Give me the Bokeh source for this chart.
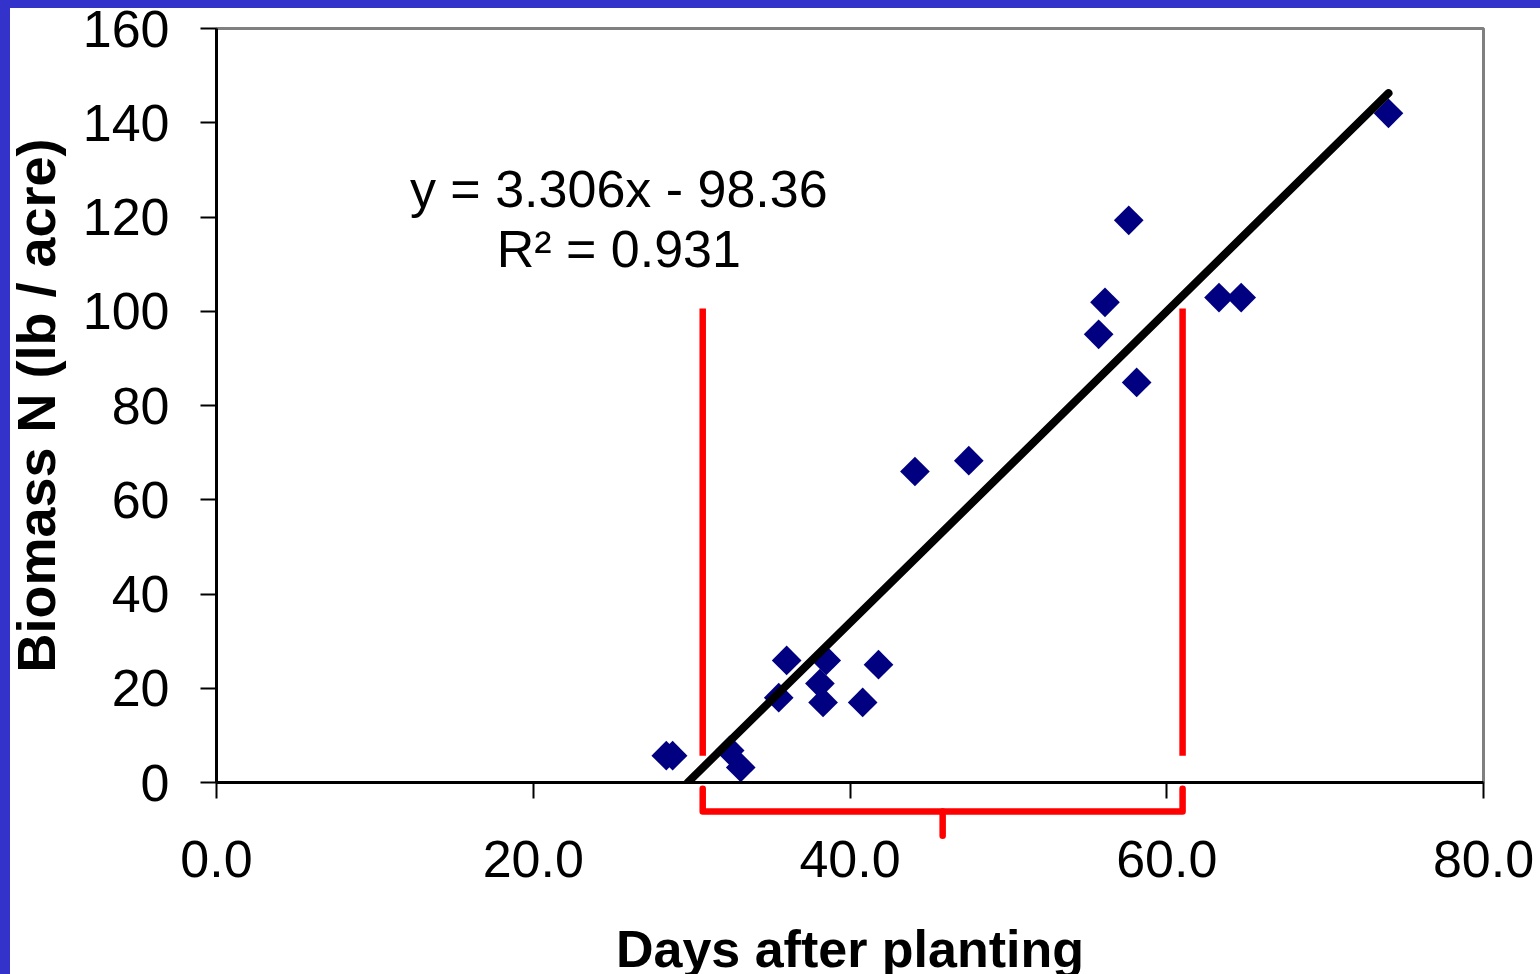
import numpy as np
from bokeh.plotting import figure
from bokeh.models import Range1d, FixedTicker, NumeralTickFormatter
from bokeh.embed import file_html
from bokeh.resources import INLINE
from bokeh.core.properties import value

# ---- data ----
days = [28.4, 28.8, 32.4, 33.1, 35.5, 36.0, 38.1, 38.5, 38.3, 40.8,
        41.8, 44.1, 47.5, 55.7, 56.1, 57.6, 58.1, 63.3, 64.7, 74.0]
biomass_n = [5.7, 5.7, 6.8, 3.2, 18.0, 25.9, 21.0, 25.9, 17.0, 17.0,
             25.0, 66.0, 68.3, 95.1, 101.9, 119.3, 84.9, 102.9, 102.9, 142.0]
slope = 3.306
intercept = -98.36
r_squared = 0.931
x_ticks = [0, 20, 40, 60, 80]
y_ticks = [0, 20, 40, 60, 80, 100, 120, 140, 160]
window_days = [30.7, 61.0]      # red marked period
window_n = [5.7, 100.6]         # vertical extent of the red markers
bracket_levels = [-1.3, -6.15, -11.3]  # arm top, bar, tip (below the axis)
eq_x = 25.4
eq_y = [126.0, 113.3]

FONT = "Liberation Sans"

p = figure(output_backend="svg", toolbar_location=None,
           frame_width=1267, frame_height=754,
           x_range=Range1d(0, 80), y_range=Range1d(0, 160),
           min_border_left=216, min_border_top=28,
           min_border_right=57, min_border_bottom=210,
           background_fill_color="white", border_fill_color="white",
           outline_line_color="#808080", outline_line_width=3)
p.grid.visible = False

# scatter (diamonds)
p.scatter(days, biomass_n, marker="square", angle=np.pi / 4, size=21,
          fill_color="#000080", line_color=None)

# trend line from fit parameters, over the data x-range (clipped at y=0)
x0 = max(min(days), -intercept / slope)
x1 = max(days)
p.line([x0, x1], [slope * x0 + intercept, slope * x1 + intercept],
       line_color="black", line_width=8, line_cap="round")

# equation text
p.text(x=[eq_x, eq_x], y=eq_y,
       text=[f"y = {slope}x - {abs(intercept)}", f"R\u00b2 = {r_squared}"],
       text_font=value(FONT), text_font_size="52px", text_align="center",
       text_baseline="alphabetic", text_color="black")

# red vertical markers
for d in window_days:
    p.line([d, d], window_n, line_color="#FF0000", line_width=6.5)

# red bracket below the axis
mid = (window_days[0] + window_days[1]) / 2
arm, bar, tip = bracket_levels
p.line([window_days[0], window_days[0], window_days[1], window_days[1]],
       [arm, bar, bar, arm], line_color="#FF0000", line_width=6.5,
       line_join="round", line_cap="round", level="overlay")
p.line([mid, mid], [bar, tip], line_color="#FF0000", line_width=6.5,
       line_cap="round", level="overlay")

# axes
p.xaxis.ticker = FixedTicker(ticks=x_ticks)
p.xaxis.formatter = NumeralTickFormatter(format="0.0")
p.yaxis.ticker = FixedTicker(ticks=y_ticks)
for ax in (p.xaxis, p.yaxis):
    ax.axis_line_color = "black"
    ax.axis_line_width = 3
    ax.major_tick_in = 0
    ax.major_tick_out = 16
    ax.major_tick_line_width = 2
    ax.major_tick_line_color = "black"
    ax.minor_tick_line_color = None
    ax.major_label_text_font = FONT
    ax.major_label_text_font_size = "52px"
    ax.major_label_text_color = "black"
    ax.axis_label_text_font = FONT
    ax.axis_label_text_font_style = "bold"
    ax.axis_label_text_color = "black"
p.xaxis.axis_label_text_font_size = "52px"
p.yaxis.axis_label_text_font_size = "54px"
p.xaxis.axis_label = "Days after planting"
p.yaxis.axis_label = "Biomass N (lb / acre)"
p.xaxis.major_label_standoff = 42
p.yaxis.major_label_standoff = 31
p.xaxis.axis_label_standoff = 40
p.yaxis.axis_label_standoff = 14

html = file_html(p, INLINE)
style = ("<style>html,body{margin:0 !important;padding:0 !important;"
         "overflow:hidden !important;background:#ffffff;}"
         "body::before{content:'';position:fixed;left:0;top:0;width:10px;"
         "height:100%;background:#3333CC;z-index:1000;}"
         "body::after{content:'';position:fixed;left:0;top:0;width:100%;"
         "height:8px;background:#3333CC;z-index:1000;}</style>")
html = html.replace("</head>", style + "</head>")
open("out.html", "w").write(html)
